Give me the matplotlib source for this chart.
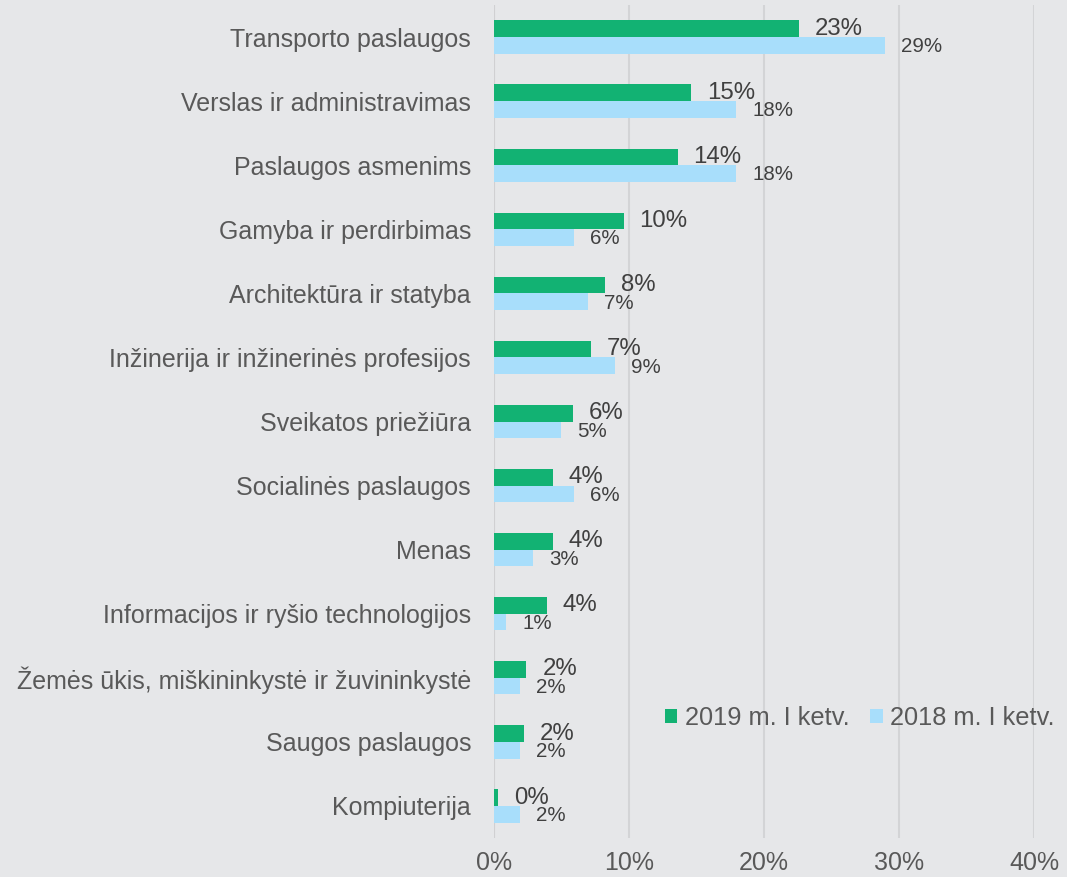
import matplotlib
matplotlib.use("Agg")
import matplotlib.pyplot as plt
import numpy as np

plt.rcParams['font.family'] = ['Liberation Sans', 'DejaVu Sans']

categories = [
    "Transporto paslaugos",
    "Verslas ir administravimas",
    "Paslaugos asmenims",
    "Gamyba ir perdirbimas",
    "Architektūra ir statyba",
    "Inžinerija ir inžinerinės profesijos",
    "Sveikatos priežiūra",
    "Socialinės paslaugos",
    "Menas",
    "Informacijos ir ryšio technologijos",
    "Žemės ūkis, miškininkystė ir žuvininkystė",
    "Saugos paslaugos",
    "Kompiuterija",
]
values_2019 = [22.6, 14.6, 13.6, 9.6, 8.25, 7.2, 5.85, 4.37, 4.37, 3.92, 2.4, 2.2, 0.28]
values_2018 = [29.0, 17.95, 17.95, 5.95, 6.95, 8.97, 4.96, 5.95, 2.91, 0.91, 1.96, 1.96, 1.96]
series_names = ["2019 m. I ketv.", "2018 m. I ketv."]
xticks = [0, 10, 20, 30, 40]

c2019 = "#12B273"
c2018 = "#A8DEFB"
bg = "#E6E7E9"
txt = "#595959"
grid_c = "#D3D4D6"

fig = plt.figure(figsize=(10.67, 8.77), dpi=100, facecolor=bg)
ax = fig.add_axes([494/1067, 39/877, 540/1067, 833/877])
ax.set_facecolor(bg)

y = np.arange(len(categories))
h = 0.26
b1 = ax.barh(y - h/2, values_2019, height=h, color=c2019, label=series_names[0], zorder=3)
b2 = ax.barh(y + h/2, values_2018, height=h, color=c2018, label=series_names[1], zorder=3)

for yi, v in zip(y, values_2019):
    ax.annotate(f"{v:.0f}%", xy=(v, yi - h/2), xytext=(11.5, 0), textcoords="offset points",
                ha="left", va="center", fontsize=17.3, color="#404040", zorder=4)
for yi, v in zip(y, values_2018):
    ax.annotate(f"{v:.0f}%", xy=(v, yi + h/2), xytext=(11.5, -1), textcoords="offset points",
                ha="left", va="center", fontsize=14.8, color="#404040", zorder=4)

ax.set_ylim(len(categories) - 0.5, -0.5)
ax.set_xlim(0, 40)
ax.set_yticks(y)
ax.set_yticklabels(categories, fontsize=18, color=txt)
ax.set_xticks(xticks)
ax.set_xticklabels([f"{t}%" for t in xticks], fontsize=18, color=txt)
ax.tick_params(axis="y", length=0, pad=16.5)
ax.tick_params(axis="x", length=0, pad=9)
for s in ax.spines.values():
    s.set_visible(False)
ax.grid(axis="x", color=grid_c, linewidth=1.5, zorder=0)
ax.axvline(0, color="#D0D0D2", linewidth=1.5, zorder=2)

leg = ax.legend(loc="center left", bbox_to_anchor=(0.316, 0.144), ncol=2, frameon=False,
                fontsize=18.3, handlelength=0.5, handleheight=0.5, handletextpad=0.3,
                columnspacing=0.8, borderaxespad=0, borderpad=0)
for t in leg.get_texts():
    t.set_color(txt)

fig.savefig("out.png", dpi=100, facecolor=bg)
